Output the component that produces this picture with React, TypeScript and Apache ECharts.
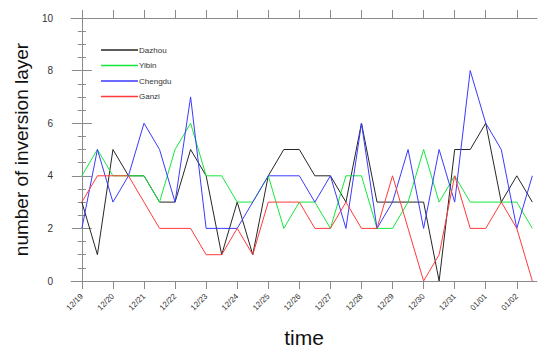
import React, { useEffect, useRef } from "react";
import * as echarts from "echarts";

const dateLabels = ["12/19","12/20","12/21","12/22","12/23","12/24","12/25","12/26","12/27","12/28","12/29","12/30","12/31","01/01","01/02"];
const seriesNames = ["Dazhou", "Yibin", "Chengdu", "Ganzi"];
const dazhou = [3,1,5,4,4,3,3,5,4,1,3,1,4,5,5,4,4,3,6,3,3,3,3,0,5,5,6,3,4,3];
const yibin = [4,5,4,4,4,3,5,6,4,4,3,3,4,2,3,3,2,4,4,2,2,3,5,3,4,3,3,3,3,2];
const chengdu = [2,5,3,4,6,5,3,7,2,2,2,3,4,4,4,3,4,2,6,2,3,5,2,5,3,8,6,5,2,4];
const ganzi = [3,4,4,4,3,2,2,2,1,1,2,1,3,3,3,2,2,3,2,2,4,2,0,1,4,2,2,3,2,0];
const colors = ["#262626", "#14e83c", "#3a3aff", "#ff3a3a"];

const FONT = "Liberation Sans, Arial, Helvetica, sans-serif";
const AXIS_COLOR = "#8a8a8a";

export default function App() {
  const ref = useRef<HTMLDivElement>(null);
  useEffect(() => {
    if (!ref.current) return;
    const chart = echarts.init(ref.current, null, { renderer: "svg" });
    const tickVals = dateLabels.map((_, i) => i * 2);
    const allData = [dazhou, yibin, chengdu, ganzi];
    const xCommon = {
      type: "value" as const,
      min: -0.7,
      max: 29.3,
      splitLine: { show: false },
      axisLine: { show: true, onZero: false, lineStyle: { color: AXIS_COLOR, width: 1 } },
      axisTick: { show: true, customValues: tickVals, length: 8, lineStyle: { color: AXIS_COLOR } },
    };
    const yCommon = {
      type: "value" as const,
      min: 0,
      max: 10,
      interval: 2,
      splitLine: { show: false },
      axisLine: { show: true, lineStyle: { color: AXIS_COLOR, width: 1 } },
      axisTick: { show: true, length: 10, lineStyle: { color: AXIS_COLOR } },
      minorTick: { show: true, splitNumber: 4, length: 4, lineStyle: { color: AXIS_COLOR } },
    };
    chart.setOption({
      animation: false,
      backgroundColor: "#ffffff",
      textStyle: { fontFamily: FONT },
      grid: { left: 71, right: 13, top: 18, bottom: 71, containLabel: false },
      legend: {
        orient: "vertical",
        left: 96,
        top: 40,
        itemWidth: 37,
        itemHeight: 1.5,
        itemGap: 5.5,
        icon: "rect",
        data: seriesNames,
        textStyle: { fontSize: 8, color: "#333", fontFamily: FONT, lineHeight: 10, padding: [0, 0, 0, -4] },
      },
      xAxis: [
        {
          ...xCommon,
          position: "bottom",
          name: "time",
          nameLocation: "middle",
          nameGap: 46,
          nameTextStyle: { fontSize: 21, color: "#111", fontFamily: FONT },
          axisLabel: {
            show: true,
            customValues: tickVals,
            rotate: 45,
            fontSize: 8,
            margin: 14,
            color: "#333",
            fontFamily: FONT,
            formatter: (v: number) => dateLabels[Math.round(v / 2)] ?? "",
          },
        },
        {
          ...xCommon,
          position: "top",
          axisLabel: { show: false },
        },
      ],
      yAxis: [
        {
          ...yCommon,
          position: "left",
          name: "number of inversion layer",
          nameLocation: "middle",
          nameGap: 40,
          nameTextStyle: { fontSize: 19, color: "#111", fontFamily: FONT },
          axisLabel: { show: true, fontSize: 10, margin: 18, color: "#333", fontFamily: FONT },
        },
        {
          ...yCommon,
          position: "right",
          axisLabel: { show: false },
        },
      ],
      series: seriesNames.map((name, k) => ({
        name,
        type: "line",
        xAxisIndex: 0,
        yAxisIndex: 0,
        symbol: "none",
        data: allData[k].map((v, i) => [i, v]),
        itemStyle: { color: colors[k] },
        lineStyle: { color: colors[k], width: 1 },
      })),
    });
    return () => chart.dispose();
  }, []);
  return <div ref={ref} style={{ width: 550, height: 353, position: "absolute", left: 0, top: 0 }} />;
}
